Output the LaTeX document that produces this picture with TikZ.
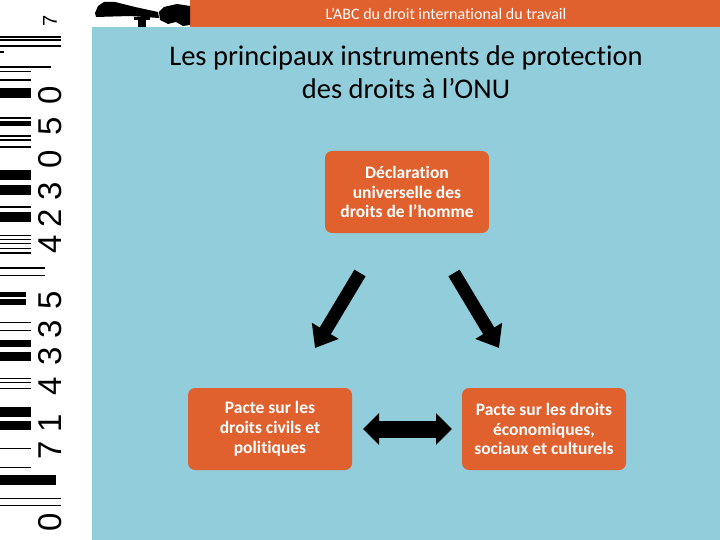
\documentclass[tikz,border=0pt]{standalone}
\usepackage{fontspec}
\setmainfont{Carlito}[Ligatures=NoCommon]
\newfontfamily\bcfont{Liberation Sans}
\usetikzlibrary{arrows.meta}
\definecolor{orng}{RGB}{224,96,46}
\definecolor{sky}{RGB}{146,205,220}
\begin{document}
\begin{tikzpicture}[x=1pt,y=-1pt,
  box/.style={fill=orng, rounded corners=7pt, minimum width=164pt, minimum height=82pt, text=white, align=center, font=\fontsize{17.5}{19.8}\selectfont\bfseries, inner sep=0pt},
  bigarrow/.style={line width=13pt, -{Triangle[length=20pt,width=30pt]}},
  dblarrow/.style={line width=17pt, {Triangle[length=16pt,width=31pt]}-{Triangle[length=16pt,width=31pt]}},
  digit/.style={rotate=90, inner sep=0pt, font=\bcfont\fontsize{33}{33}\selectfont}
]
\useasboundingbox (0,0) rectangle (720,540);
% backgrounds
\fill[white] (0,0) rectangle (720,540);
\fill[sky] (92,27) rectangle (720,540);
\fill[orng] (190,0) rectangle (720,27);
% gavel silhouette
\fill[black] (95,13) -- (98,6) -- (104,2) -- (115,2) -- (135,7) -- (158,12) -- (159,18) -- (130,16) -- (96,17) -- cycle;
\fill[black] (159,12) -- (164,7) -- (177,4) -- (190,6) -- (190,25) -- (183,26) -- (176,22) -- (168,24) -- (160,20) -- cycle;
\fill[black] (134,17) rectangle (150,20);
\fill[black] (138,20) rectangle (146,27);
% barcode bars
\foreach \a/\b/\c in {36.5/38/61, 39.5/41/61, 45.5/47/61, 51.5/53/4, 66/68/51, 71.5/72.5/31, 79.5/81/31, 88/98/31,
  117.5/119/31, 121/126/31, 135/137/31, 139.5/141/31, 146.5/148/31, 170/180/31, 185/195/31, 206/208/31, 212/222/31,
  234.5/236/31, 238.5/240/31, 242.5/244/31, 247.5/249/31, 252/254/31, 267/268.5/45, 274.5/276/45, 291.5/297/26, 299/305/26,
  321.5/323/31, 329.5/331/31, 340/347/31, 352/361/31, 377.5/379/31, 381.5/383/31, 387.5/389/31, 407/417/31, 421/430/31,
  447.5/449/31, 466.5/468/31, 475/485/56, 497.5/499/61, 504.5/506/61}
  \fill[black] (0,\a) rectangle (\c,\b);
% barcode digits
\node[digit, font=\bcfont\fontsize{20}{20}\selectfont] (d0) at (50,21) {7};
\foreach \y/\d [count=\i] in {95/0, 126/5, 159/0, 191/3, 218/2, 244/4, 300/5, 329/3, 356/3, 386/4, 423/1, 450/7, 522/0}
  \node[digit] (dg\i) at (50,\y) {\d};
% banner and title
\node[text=white, font=\fontsize{16}{18}\selectfont] (banner) at (446,14) {L’ABC du droit international du travail};
\node[align=center, font=\fontsize{28.5}{33}\selectfont] (title) at (406,72) {Les principaux instruments de protection\\des droits à l’ONU};
% boxes
\node[box] (b1) at (407,192) {Déclaration\\universelle des\\droits de l’homme};
\node[box] (b2) at (270,429) {Pacte sur les\\droits civils et\\politiques};
\node[box] (b3) at (544,429) {Pacte sur les droits\\économiques,\\sociaux et culturels};
% arrows
\coordinate (l1) at (360,273); \coordinate (l2) at (315,348);
\coordinate (r1) at (454,273); \coordinate (r2) at (499,348);
\coordinate (h1) at (363,429); \coordinate (h2) at (452,429);
\draw[bigarrow] (l1) -- (l2);
\draw[bigarrow] (r1) -- (r2);
\draw[dblarrow] (h1) -- (h2);
\end{tikzpicture}
\end{document}
